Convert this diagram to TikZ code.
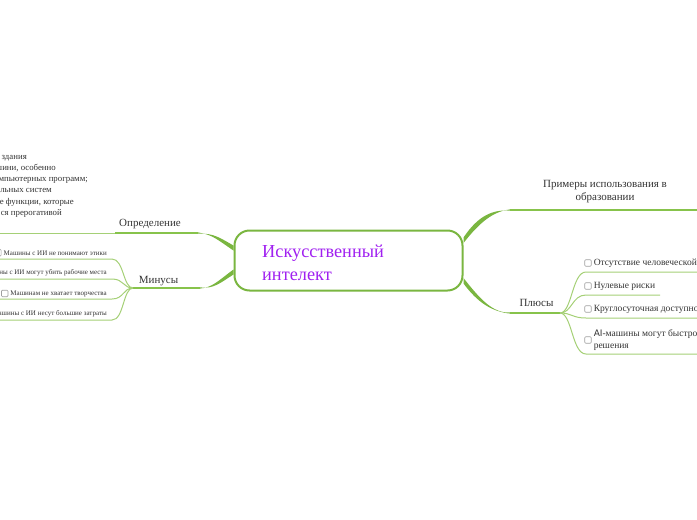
\documentclass[tikz,border=0pt]{standalone}
\usepackage{fontspec}
\setmainfont{Liberation Serif}
\newfontfamily\aisans{DejaVu Sans}
\usetikzlibrary{positioning}
\definecolor{rama}{RGB}{122,182,64}
\definecolor{tallo}{RGB}{135,195,75}
\definecolor{hoja}{RGB}{165,208,118}
\definecolor{tema}{RGB}{160,32,240}
\definecolor{texto}{RGB}{51,51,51}
\begin{document}
\begin{tikzpicture}[x=1pt,y=-1pt,
    etiqueta/.style={text=texto,font=\fontsize{11}{13}\selectfont,inner sep=0pt,anchor=base},
    nota/.style={text=texto,font=\fontsize{8.8}{10}\selectfont,inner sep=0pt,anchor=base east},
    menos/.style={text=texto,font=\fontsize{7}{8}\selectfont,inner sep=0pt,anchor=base east},
    mas/.style={text=texto,font=\fontsize{9.5}{12}\selectfont,inner sep=0pt,align=left},
    caja/.style={draw=gray!75,rounded corners=1pt,line width=0.6pt,minimum size=6.5pt,inner sep=0pt},
    linea/.style={draw=tallo,line width=1.2pt},
    fina/.style={draw=hoja,line width=1pt}]
    \clip (0,0) rectangle (697,520);
    % El tema central y sus cuatro ramas.
    \node[draw=rama,line width=2pt,rounded corners=15pt,minimum width=228pt,minimum height=60pt] (centro) at (348.5,260.5) {};
    \node[anchor=north west,text=tema,font=\fontsize{18.3}{23}\selectfont,align=left,inner sep=0pt] (titulo) at (262,244.5) {Искусственный\\интелект};
    \coordinate (defA) at (198,233);
    \coordinate (defB) at (115,233);
    \coordinate (defC) at (0,233);
    \coordinate (menA) at (200,288);
    \coordinate (menB) at (133,288);
    \coordinate (ejeA) at (510,210);
    \coordinate (ejeB) at (697,210);
    \coordinate (masA) at (510,313);
    \coordinate (masB) at (560,313);
    \fill[rama] (centro.west |- 0,245.5) .. controls (220,238) and (214,233) .. ([yshift=-0.6]defA) -- ([yshift=0.6]defA) .. controls (213,234.5) and (219,241) .. (centro.west |- 0,250.5);
    \fill[rama] (centro.west |- 0,269.5) .. controls (219,280) and (213,287.4) .. ([yshift=-0.6]menA) -- ([yshift=0.6]menA) .. controls (214,289) and (220,283) .. (centro.west |- 0,274.5);
    \fill[rama] (centro.east |- 0,237.5) .. controls (478,216) and (492,209.4) .. ([yshift=-0.6]ejeA) -- ([yshift=0.6]ejeA) .. controls (493,211.5) and (480,222) .. (centro.east |- 0,243);
    \fill[rama] (centro.east |- 0,278) .. controls (480,299) and (493,313.6) .. ([yshift=0.6]masA) -- ([yshift=-0.6]masA) .. controls (492,311.5) and (478,303) .. (centro.east |- 0,283.5);
    \draw[linea] (defA) -- (defB);
    \draw[fina] (defB) -- (defC);
    \draw[linea] (menA) -- (menB);
    \draw[linea] (ejeA) -- (ejeB);
    \draw[linea] (masA) -- (masB);
    \node[etiqueta] (def) at (150,226) {Определение};
    \node[etiqueta] (men) at (158.5,283) {Минусы};
    \node[etiqueta,align=center,anchor=north] (eje) at (605,180) {Примеры использования в\\образовании};
    \node[etiqueta] (mas) at (536.5,306) {Плюсы};
    % Texto de la definición, cortado por el borde.
    \node[nota] (n1) at (27,159) {здания};
    \node[nota] (n2) at (56,170) {шини, особенно};
    \node[nota] (n3) at (88,181) {мпьютерных программ;};
    \node[nota] (n4) at (52,192) {льных систем};
    \node[nota] (n5) at (74,204) {е функции, которые};
    \node[nota] (n6) at (62,215) {ся прерогативой};
    % Minusy
    \foreach \y/\nombre in {259/m1,279/m2,299/m3,320/m4}{
        \coordinate (\nombre) at (0,\y);
        \draw[fina] (menB) .. controls (123,288) and (124,\y) .. (112,\y) -- (\nombre);
    }
    \node[menos] (t1) at (107,255) {Машины с ИИ не понимают этики};
    \node[caja,left=2pt of t1.west] (c1) {};
    \node[menos] (t2) at (107,274) {ны с ИИ могут убить рабочие места};
    \node[menos] (t3) at (107,295) {Машинам не хватает творчества};
    \node[caja,left=2pt of t3.west] (c3) {};
    \node[menos] (t4) at (107,315) {ашины с ИИ несут большие затраты};
    % Plyusy
    \foreach \y/\fin/\nombre in {272/697/p1,295/660/p2,318/697/p3,354/697/p4}{
        \coordinate (\nombre) at (\fin,\y);
        \draw[fina] (masB) .. controls (572,313) and (572,\y) .. (586,\y) -- (\nombre);
    }
    \node[caja] (k1) at (588,263) {};
    \node[mas,right=2pt of k1] (s1) {Отсутствие человеческой};
    \node[caja] (k2) at (588,286) {};
    \node[mas,right=2pt of k2] (s2) {Нулевые риски};
    \node[caja] (k3) at (588,309) {};
    \node[mas,right=2pt of k3] (s3) {Круглосуточная доступно};
    \node[caja] (k4) at (588,340) {};
    \node[mas,right=2pt of k4] (s4) {{\aisans\fontsize{9}{12}\selectfont AI}-машины могут быстро\\решения};
\end{tikzpicture}
\end{document}
